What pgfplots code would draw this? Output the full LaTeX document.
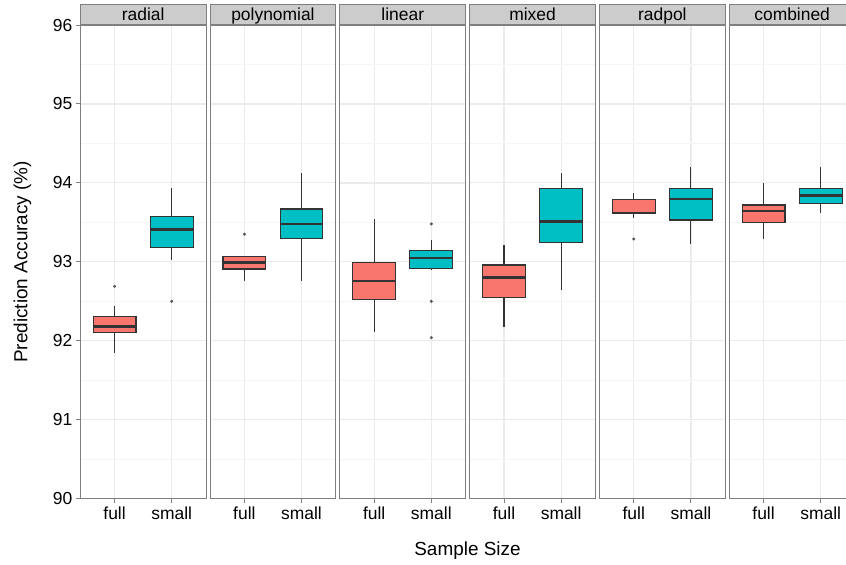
\documentclass[border=0pt]{standalone}
\usepackage{pgfplots}
\pgfplotsset{compat=1.18}
\usepgfplotslibrary{statistics}
\usepackage{fontspec}
\setmainfont{Liberation Sans}
\definecolor{cfull}{HTML}{F8766D}
\definecolor{csmall}{HTML}{00BFC4}
\definecolor{g50}{HTML}{7F7F7F}
\definecolor{g80}{HTML}{CCCCCC}
\definecolor{g20}{HTML}{333333}
\definecolor{gridmaj}{HTML}{EBEBEB}
\definecolor{gridmin}{HTML}{F5F5F5}
\tikzset{strip/.style={draw=g50, fill=g80, line width=0.9bp, anchor=south,
  minimum width=125.7bp, inner sep=0pt, text height=16bp, text depth=4bp,
  font=\fontsize{17.5}{19}\selectfont}}
\pgfplotsset{
  facet/.style={
    scale only axis, width=125.7bp, height=473.7bp, anchor=south west,
    xmin=0.4, xmax=2.6, ymin=90, ymax=96,
    xtick={1,2}, xticklabels={full,small},
    ytick={90,91,...,96}, minor y tick num=1,
    xmajorgrids, ymajorgrids, yminorgrids,
    major grid style={draw=gridmaj, line width=1.2bp},
    minor grid style={draw=gridmin, line width=0.6bp},
    axis line style={draw=g50, line width=0.9bp},
    tick align=outside, xtick pos=bottom, ytick pos=left,
    major tick length=4.5bp, minor tick length=0pt,
    tick style={draw=g50, line width=0.9bp},
    ticklabel style={font=\fontsize{17.5}{20}\selectfont, text=black},
    /pgf/number format/assume math mode=true,
    boxplot/draw direction=y,
    boxplot/box extend=0.75,
    boxplot/whisker extend=0,
    boxplot/every median/.style={line width=2.3bp},
    facettitle/.style={extra description/.code={\node[strip] at (0.5,1) {##1};}},
  },
  noy/.style={yticklabels={}, ytick style={draw=none}},
  bfull/.style={draw=g20, fill=cfull, line width=1.1bp, solid, mark=*, mark size=1.3bp,
    mark options={draw=g20!80, fill=g20!80, line width=0.5bp}},
  bsmall/.style={draw=g20, fill=csmall, line width=1.1bp, solid, mark=*, mark size=1.3bp,
    mark options={draw=g20!80, fill=g20!80, line width=0.5bp}},
}
\begin{document}
\begin{tikzpicture}
\clip (0,0) rectangle (846bp,565bp);
% radial
\begin{axis}[facet, at={(80.3bp,66.3bp)}, facettitle={radial},
  ylabel={Prediction Accuracy (\%)},
  ylabel style={at={(axis description cs:-0.46,0.5)}, anchor=center, font=\fontsize{19}{22}\selectfont}]
\addplot[bfull, boxplot prepared={draw position=1, lower whisker=91.85, lower quartile=92.11, median=92.18, upper quartile=92.31, upper whisker=92.44}] coordinates {(1,92.69)};
\addplot[bsmall, boxplot prepared={draw position=2, lower whisker=93.02, lower quartile=93.18, median=93.41, upper quartile=93.57, upper whisker=93.93}] coordinates {(2,92.50)};
\end{axis}
% polynomial
\begin{axis}[facet, noy, at={(210.1bp,66.3bp)}, facettitle={polynomial}]
\addplot[bfull, boxplot prepared={draw position=1, lower whisker=92.76, lower quartile=92.91, median=92.99, upper quartile=93.07, upper whisker=93.08}] coordinates {(1,93.35)};
\addplot[bsmall, boxplot prepared={draw position=2, lower whisker=92.76, lower quartile=93.30, median=93.48, upper quartile=93.67, upper whisker=94.13}] coordinates {};
\end{axis}
% linear
\begin{axis}[facet, noy, at={(339.9bp,66.3bp)}, facettitle={linear},
  xlabel={Sample Size},
  xlabel style={at={(axis description cs:1.015,-0.110)}, anchor=center, font=\fontsize{19}{22}\selectfont}]
\addplot[bfull, boxplot prepared={draw position=1, lower whisker=92.11, lower quartile=92.52, median=92.76, upper quartile=92.99, upper whisker=93.54}] coordinates {};
\addplot[bsmall, boxplot prepared={draw position=2, lower whisker=92.90, lower quartile=92.92, median=93.05, upper quartile=93.14, upper whisker=93.28}] coordinates {(2,93.48) (2,92.50) (2,92.04)};
\end{axis}
% mixed
\begin{axis}[facet, noy, at={(469.7bp,66.3bp)}, facettitle={mixed}]
\addplot[bfull, boxplot prepared={draw position=1, lower whisker=92.18, lower quartile=92.55, median=92.80, upper quartile=92.96, upper whisker=93.21}] coordinates {};
\addplot[bsmall, boxplot prepared={draw position=2, lower whisker=92.64, lower quartile=93.25, median=93.51, upper quartile=93.93, upper whisker=94.13}] coordinates {};
\end{axis}
% radpol
\begin{axis}[facet, noy, at={(599.5bp,66.3bp)}, facettitle={radpol}]
\addplot[bfull, boxplot prepared={draw position=1, lower whisker=93.55, lower quartile=93.61, median=93.62, upper quartile=93.79, upper whisker=93.87}] coordinates {(1,93.29)};
\addplot[bsmall, boxplot prepared={draw position=2, lower whisker=93.22, lower quartile=93.53, median=93.80, upper quartile=93.93, upper whisker=94.20}] coordinates {};
\end{axis}
% combined
\begin{axis}[facet, noy, at={(729.3bp,66.3bp)}, facettitle={combined}]
\addplot[bfull, boxplot prepared={draw position=1, lower whisker=93.29, lower quartile=93.50, median=93.64, upper quartile=93.72, upper whisker=94.00}] coordinates {};
\addplot[bsmall, boxplot prepared={draw position=2, lower whisker=93.62, lower quartile=93.74, median=93.84, upper quartile=93.93, upper whisker=94.20}] coordinates {};
\end{axis}
\end{tikzpicture}
\end{document}
